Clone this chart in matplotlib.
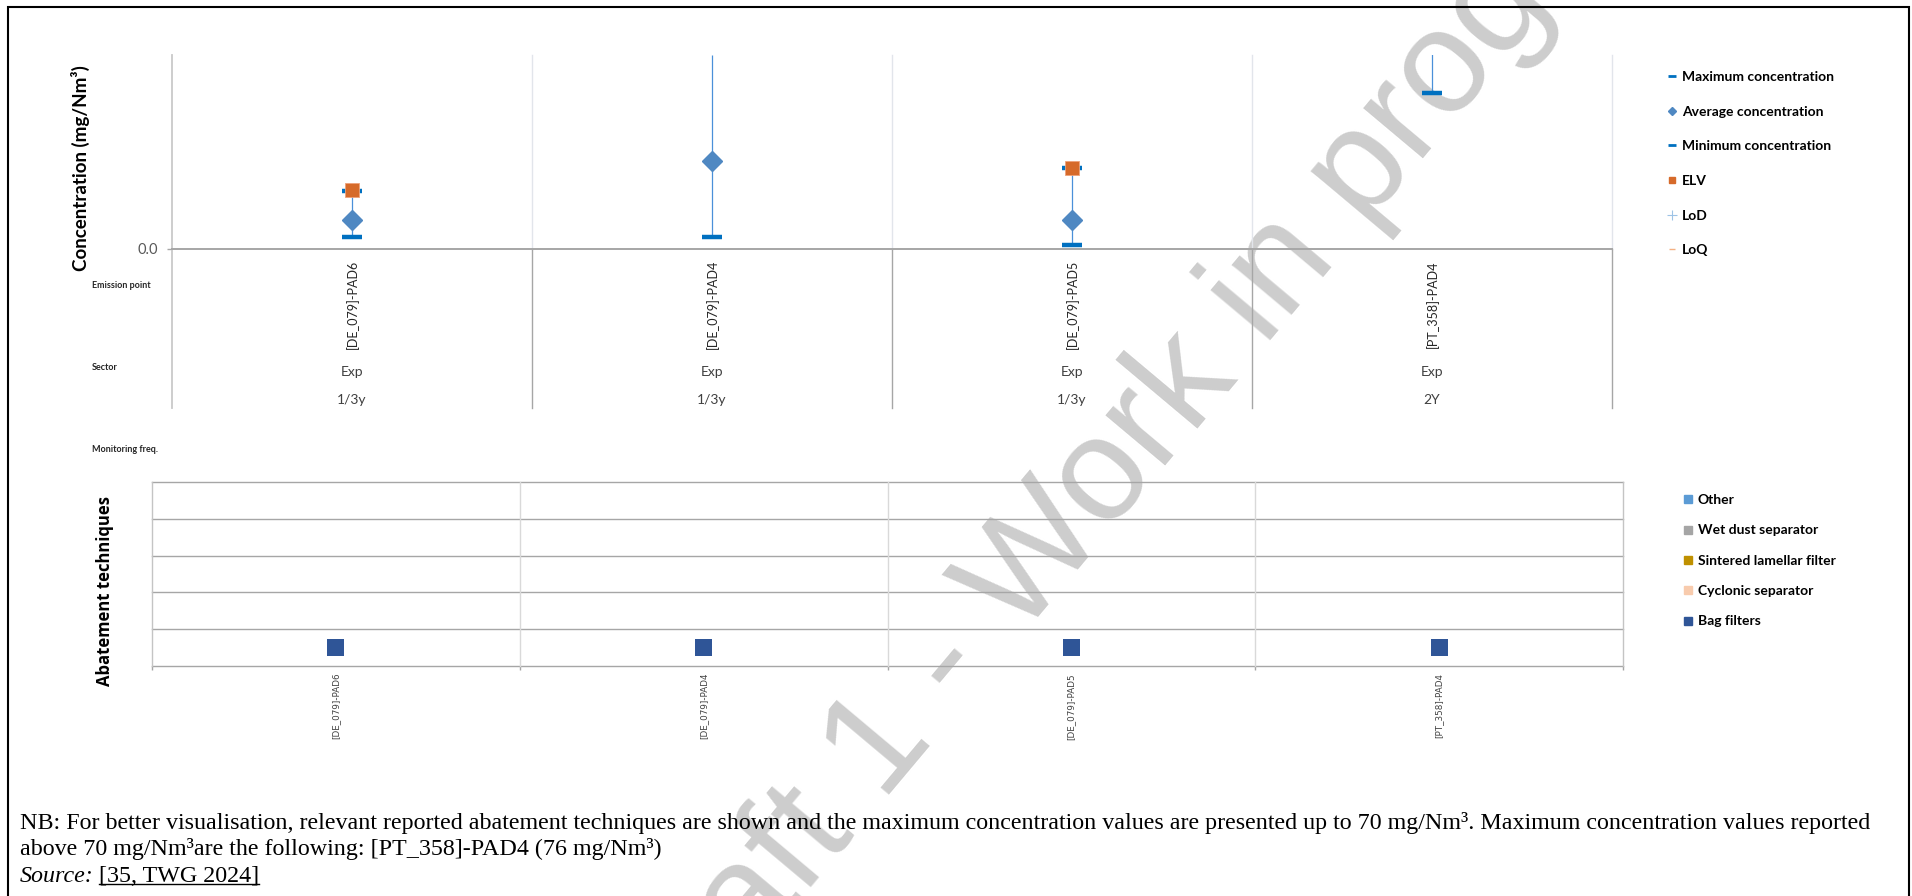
import numpy as np
import matplotlib.pyplot as plt
import matplotlib.transforms as mtransforms
from matplotlib.lines import Line2D
from matplotlib.patches import Rectangle

# chart data
emission_points = ["[DE_079]-PAD6", "[DE_079]-PAD4", "[DE_079]-PAD5", "[PT_358]-PAD4"]
sectors = ["Exp", "Exp", "Exp", "Exp"]
monitoring_freq = ["1/3y", "1/3y", "1/3y", "2Y"]

conc_max = np.array([21.0, 70.0, 29.4, 76.0])
conc_avg = np.array([10.3, 31.8, 10.6, np.nan])
conc_min = np.array([4.2, 4.2, 1.3, 56.2])
elv = np.array([21.2, np.nan, 29.4, np.nan])
lod = np.array([np.nan, np.nan, np.nan, np.nan])
loq = np.array([np.nan, np.nan, np.nan, np.nan])

techniques = ["Bag filters", "Cyclonic separator", "Sintered lamellar filter",
              "Wet dust separator", "Other"]
technique_colors = ["#2f5597", "#f8cbad", "#bf9000", "#a5a5a5", "#5b9bd5"]
technique_used = ["Bag filters", "Bag filters", "Bag filters", "Bag filters"]

Y_MAX = 70

W, H, DPI = 1912, 896, 100

plt.rcParams['font.family'] = ['Lato', 'DejaVu Sans']


def fx(px):
    return px / W


def fy(py):
    return 1 - py / H


def rect(left, top, right, bottom):
    return [left / W, 1 - bottom / H, (right - left) / W, (bottom - top) / H]


fig = plt.figure(figsize=(W / DPI, H / DPI), dpi=DPI)
fig.patch.set_facecolor("white")

# ---------------- concentration chart ----------------
ax = fig.add_axes(rect(172, 55, 1612, 249))
ax.set_facecolor("none")
x = np.arange(len(emission_points))
ax.set_xlim(-0.5, len(x) - 0.5)
ax.set_ylim(0, Y_MAX)
for s in ax.spines.values():
    s.set_visible(False)

trans = mtransforms.blended_transform_factory(ax.transData, ax.transAxes)
low = -(408 - 249) / (249 - 55)

# frame / dividers
ax.plot([-0.5, -0.5], [1, low], transform=trans, color="#c9c9c9", lw=1.3, clip_on=False)
for b in np.arange(0.5, len(x), 1.0):
    ax.plot([b, b], [0, 1], transform=trans, color="#e2e5eb", lw=1.0, clip_on=False)
    ax.plot([b, b], [0, low], transform=trans, color="#a6a6a6", lw=1.0, clip_on=False)
ax.axhline(0, color="#a6a6a6", lw=1.4, clip_on=False)

ax.set_yticks([0])
ax.set_yticklabels(["0.0"])
ax.tick_params(axis="y", length=3.6, width=1, color="#a6a6a6", pad=6.5,
               labelsize=10.5, labelcolor="#595959")
ax.set_xticks(x)
ax.set_xticklabels(emission_points, rotation=90, fontsize=9, color="#262626")
ax.tick_params(axis="x", length=0, pad=8)

for i in x:
    ax.text(i, (249 - 372) / 194, sectors[i], transform=trans, ha="center", va="center",
            fontsize=10, color="#404040")
    ax.text(i, (249 - 400) / 194, monitoring_freq[i], transform=trans, ha="center",
            va="center", fontsize=10, color="#404040")

# data
ax.vlines(x, conc_min, conc_max, color="#4a90d9", lw=0.9, zorder=2)
shown = conc_max < Y_MAX
ax.plot(x[shown], conc_max[shown], ls="none", marker="_", ms=14, mew=3.2,
        color="#0070c0", zorder=3)
ax.plot(x, conc_min, ls="none", marker="_", ms=14, mew=3.2, color="#0070c0", zorder=3)
ax.plot(x, conc_avg, ls="none", marker="D", ms=9.7, color="#4f88c2", zorder=4)
ax.plot(x, elv, ls="none", marker="s", ms=9.5, color="#d66a2a", mec="#eea27a",
        mew=0.6, zorder=5)
ax.plot(x, lod, ls="none", marker="+", color="#9dc3e6")
ax.plot(x, loq, ls="none", marker="_", color="#f4b183")

fig.text(fx(80), fy(168), "Concentration (mg/Nm³)", rotation=90, ha="center",
         va="center", fontsize=13.5, fontweight="bold")
for label, yy in [("Emission point", 285), ("Sector", 367), ("Monitoring freq.", 449)]:
    fig.text(fx(92), fy(yy), label, ha="left", va="center", fontsize=6.5,
             fontweight="bold", color="#262626")

top_handles = [
    Line2D([], [], ls="none", marker="_", ms=6, mew=2, color="#0070c0"),
    Line2D([], [], ls="none", marker="D", ms=3.8, color="#4f88c2"),
    Line2D([], [], ls="none", marker="_", ms=6, mew=2, color="#0070c0"),
    Line2D([], [], ls="none", marker="s", ms=4.3, color="#d66a2a"),
    Line2D([], [], ls="none", marker="+", ms=7, mew=0.8, color="#9dc3e6"),
    Line2D([], [], ls="none", marker="_", ms=4, mew=1, color="#f4b183"),
]
top_labels = ["Maximum concentration", "Average concentration", "Minimum concentration",
              "ELV", "LoD", "LoQ"]
fig.legend(top_handles, top_labels, loc="upper left", bbox_to_anchor=(fx(1661), fy(65.5)),
           frameon=False, borderaxespad=0, borderpad=0.4, handlelength=0.8,
           handletextpad=0.3, labelspacing=1.63,
           prop={"weight": "bold", "size": 10})

# ---------------- abatement techniques chart ----------------
ax2 = fig.add_axes(rect(152, 482, 1623, 666))
ax2.set_facecolor("none")
ax2.set_xlim(-0.5, len(x) - 0.5)
ax2.set_ylim(0.5, len(techniques) + 0.5)
for s in ax2.spines.values():
    s.set_visible(False)

for b in np.arange(len(techniques) + 1) + 0.5:
    ax2.axhline(b, color="#a6a6a6", lw=1.0, clip_on=False)
for b in np.arange(len(x) + 1) - 0.5:
    ax2.axvline(b, color="#d9d9d9" if 0 < b < len(x) - 0.5 else "#c4c4c4", lw=1.0,
                clip_on=False)

ax2.set_yticks([])
ax2.set_xticks(x)
ax2.set_xticklabels(emission_points, rotation=90, fontsize=6.3, color="#404040",
                    family="DejaVu Sans")
ax2.tick_params(axis="x", which="major", length=0, pad=5)
ax2.set_xticks(np.arange(len(x) + 1) - 0.5, minor=True)
ax2.tick_params(axis="x", which="minor", length=3, width=1, color="#a6a6a6")

tech_y = [techniques.index(t) + 1 for t in technique_used]
tech_c = [technique_colors[techniques.index(t)] for t in technique_used]
ax2.scatter(x, tech_y, marker="s", s=12.2 ** 2, c=tech_c, linewidths=0, zorder=3)

fig.text(fx(105), fy(591), "Abatement techniques", rotation=90, ha="center", va="center",
         fontsize=12, fontweight="bold", family=["Open Sans", "DejaVu Sans"])

bottom_handles = [Line2D([], [], ls="none", marker="s", ms=5.8, color=technique_colors[i])
                  for i in reversed(range(len(techniques)))]
fig.legend(bottom_handles, list(reversed(techniques)), loc="upper left",
           bbox_to_anchor=(fx(1677), fy(488.5)), frameon=False, borderaxespad=0,
           borderpad=0.4, handlelength=0.8, handletextpad=0.3, labelspacing=1.32,
           prop={"weight": "bold", "size": 10})

# ---------------- note, source, watermark, frame ----------------
serif = ["Liberation Serif", "DejaVu Serif"]
fs_note = 17.3
note1 = ("NB: For better visualisation, relevant reported abatement techniques are shown and "
         "the maximum concentration values are presented up to 70 mg/Nm³. Maximum "
         "concentration values reported")
note2 = "above 70 mg/Nm³are the following: [PT_358]-PAD4 (76 mg/Nm³)"
fig.text(fx(20), fy(823), note1, family=serif, fontsize=fs_note, va="center", zorder=4)
fig.text(fx(20), fy(849), note2, family=serif, fontsize=fs_note, va="center", zorder=4)
src = fig.text(fx(20), fy(876), "Source:", family=serif, fontsize=fs_note, style="italic",
               va="center", zorder=4)
renderer = fig.canvas.get_renderer()
bb = src.get_window_extent(renderer)
ref = fig.text(bb.x1 / W + fx(5), fy(876), "[35, TWG 2024]", family=serif,
               fontsize=fs_note, va="center", zorder=4)
rb = ref.get_window_extent(renderer)
fig.add_artist(Line2D([rb.x0 / W, rb.x1 / W], [(rb.y0 + 3) / H, (rb.y0 + 3) / H],
                      color="black", lw=1.0))

# watermark sits under the charts, above the page
fig.text(fx(1163), fy(410), "Draft 1 - Work in progress", rotation=50, ha="center",
         va="center", rotation_mode="anchor", fontsize=106, color="#cdcdcd",
         family=["Liberation Sans", "DejaVu Sans"], zorder=-1)

fig.add_artist(Rectangle((fx(8), -0.02), (1909 - 8) / W, fy(7) + 0.02,
                         transform=fig.transFigure, fill=False, ec="black", lw=1.5))

fig.savefig("out.png", dpi=DPI)
